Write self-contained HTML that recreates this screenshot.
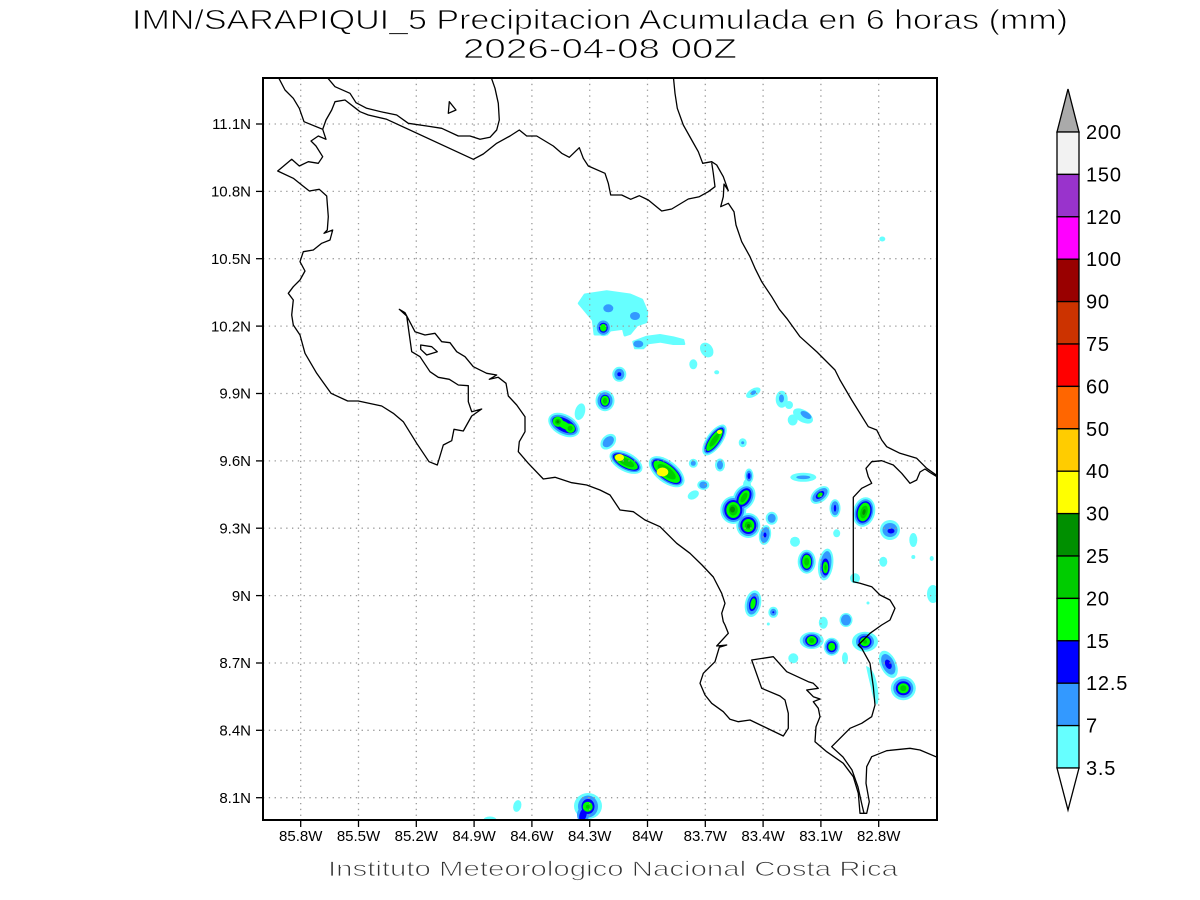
<!DOCTYPE html>
<html>
<head>
<meta charset="utf-8">
<style>
html,body{margin:0;padding:0;background:#fff;}
svg{display:block;}
text{font-family:"Liberation Sans",Arial,sans-serif;}
.c1{fill:#66ffff}.c2{fill:#3399ff}.c3{fill:#0000ff}.c4{fill:#00ff00}.c5{fill:#00cc00}.c6{fill:#008f00}.c7{fill:#ffff00}
.coast{fill:none;stroke:#000;stroke-width:1.3;stroke-linejoin:round}
.grid{stroke:#9a9a9a;stroke-width:1.3;stroke-dasharray:1.3 4.5}
.thin{stroke:#fff;stroke-width:0.8;paint-order:fill;}
</style>
</head>
<body>
<svg width="1200" height="900" viewBox="0 0 1200 900" xmlns="http://www.w3.org/2000/svg">
<defs>
<clipPath id="fr"><rect x="263" y="78" width="674" height="742"/></clipPath>
</defs>
<rect x="0" y="0" width="1200" height="900" fill="#fff"/>

<g clip-path="url(#fr)">
<path class="c1" stroke="#66ffff" stroke-width="3" stroke-linejoin="round" d="M579.3,303.3 L585,295 L606.7,291.7 L630,295 L641.7,300 L646.7,311.7 L646,321.7 L636.7,325 L630,333.3 L625,335 L623.3,328.3 L610,330 L606.7,334 L595,334 L593.3,320 L585,310 Z"/>
<ellipse class="c2" cx="608.3" cy="308.3" rx="5" ry="4"/>
<ellipse class="c2" cx="635" cy="316" rx="5" ry="4"/>
<ellipse class="c1" cx="603.3" cy="327.7" rx="8" ry="8.5"/>
<ellipse class="c2" cx="603.3" cy="327.7" rx="6.5" ry="7.2"/>
<ellipse class="c3" cx="603.3" cy="327.7" rx="4.5" ry="5"/>
<ellipse class="c4" cx="603.3" cy="327.7" rx="3.3" ry="3.8"/>
<path class="c1" stroke="#66ffff" stroke-width="2" stroke-linejoin="round" d="M633.3,341.7 L646.7,336.7 L660,335 L673.3,337.3 L683.3,340 L684.3,344 L673.3,344 L660,341.7 L648.3,343.3 L643.3,348.3 L635,348.3 Z"/>
<ellipse class="c2" cx="638.3" cy="344" rx="5" ry="3.5"/>
<ellipse class="c1" cx="706.7" cy="350" rx="6" ry="8" transform="rotate(-35 706.7 350)"/>
<ellipse class="c1" cx="693.3" cy="364.3" rx="4" ry="5"/>
<ellipse class="c1" cx="716.7" cy="372.3" rx="2.5" ry="2"/>
<ellipse class="c1" cx="882.3" cy="239" rx="3" ry="2.5"/>
<ellipse class="c1" cx="619.3" cy="374.3" rx="7" ry="7.5"/>
<ellipse class="c2" cx="619.3" cy="374.3" rx="5" ry="5.5"/>
<ellipse class="c3" cx="619.3" cy="374.3" rx="2" ry="2"/>
<ellipse class="c1" cx="605" cy="400.7" rx="9.5" ry="10.5"/>
<ellipse class="c2" cx="605" cy="400.7" rx="7.5" ry="8.5"/>
<ellipse class="c3" cx="605" cy="400.7" rx="5" ry="6"/>
<ellipse class="c4" cx="605" cy="400.7" rx="4" ry="5"/>
<ellipse class="c5" cx="605" cy="400.7" rx="2" ry="3"/>
<ellipse class="c1" cx="580" cy="411.7" rx="5" ry="8.5" transform="rotate(15 580 411.7)"/>
<g transform="translate(564 425) rotate(28)">
<ellipse class="c1" rx="17" ry="10.5"/>
<ellipse class="c2" rx="15" ry="8.5"/>
<ellipse class="c3" rx="13" ry="6.5"/>
<ellipse class="c4" cx="-6.9" rx="5.3" ry="5"/>
<ellipse class="c4" cx="6.9" rx="5" ry="4.5"/>
<ellipse class="c4" rx="8" ry="3.5"/>
<ellipse class="c5" cx="-6.9" rx="3" ry="3"/>
<ellipse class="c5" cx="6.9" rx="2.5" ry="2.5"/>
<ellipse class="c6" cx="-7" rx="1.5" ry="1.5"/>
</g>
<ellipse class="c1" cx="608.3" cy="441.7" rx="9" ry="6.5" transform="rotate(-45 608.3 441.7)"/>
<ellipse class="c2" cx="608.3" cy="441.7" rx="6.5" ry="4.5" transform="rotate(-45 608.3 441.7)"/>
<g transform="translate(626 462) rotate(28)">
<ellipse class="c1" rx="18" ry="9.5"/>
<ellipse class="c2" rx="16" ry="7.5"/>
<ellipse class="c3" rx="14.5" ry="6.2"/>
<ellipse class="c4" rx="13" ry="5.3"/>
<ellipse class="c5" rx="9" ry="3.5"/>
</g>
<ellipse class="c7" cx="619.5" cy="457.5" rx="4.5" ry="3.5"/>
<g transform="translate(666.7 471.7) rotate(38)">
<ellipse class="c1" rx="21" ry="11"/>
<ellipse class="c2" rx="19" ry="9"/>
<ellipse class="c3" rx="17.5" ry="7.7"/>
<ellipse class="c4" rx="16" ry="6.7"/>
<ellipse class="c5" rx="11" ry="4.5"/>
</g>
<ellipse class="c7" cx="662.5" cy="472" rx="5.8" ry="4.5"/>
<g transform="translate(714.5 440) rotate(-55)">
<ellipse class="c1" rx="18" ry="8"/>
<ellipse class="c2" rx="16" ry="6.5"/>
<ellipse class="c3" rx="14.5" ry="5.3"/>
<ellipse class="c4" rx="13" ry="4.3"/>
<ellipse class="c5" rx="8" ry="2.5"/>
</g>
<ellipse class="c7" cx="719.5" cy="432" rx="2.5" ry="2"/>
<ellipse class="c1" cx="753.3" cy="392.7" rx="8" ry="4" transform="rotate(-30 753.3 392.7)"/>
<ellipse class="c2" cx="753.3" cy="392.7" rx="3" ry="2" transform="rotate(-30 753.3 392.7)"/>
<ellipse class="c1" cx="781.7" cy="399.3" rx="6" ry="8.5"/>
<ellipse class="c1" cx="789" cy="405" rx="4" ry="4"/>
<ellipse class="c1" cx="803" cy="416" rx="11" ry="6" transform="rotate(30 803 416)"/>
<ellipse class="c1" cx="792.7" cy="420" rx="5" ry="5.5"/>
<ellipse class="c2" cx="781.5" cy="398.5" rx="2.5" ry="4"/>
<ellipse class="c2" cx="806" cy="415" rx="6" ry="3" transform="rotate(30 806 415)"/>
<ellipse class="c1" cx="693.3" cy="463.3" rx="4.5" ry="4.5"/>
<ellipse class="c2" cx="693.3" cy="463.3" rx="2.5" ry="2.5"/>
<ellipse class="c1" cx="720" cy="465" rx="5" ry="6.5"/>
<ellipse class="c2" cx="720" cy="465" rx="3" ry="4.5"/>
<ellipse class="c1" cx="703.3" cy="485" rx="6" ry="5"/>
<ellipse class="c2" cx="703.3" cy="485" rx="4" ry="3.5"/>
<ellipse class="c1" cx="693.3" cy="495" rx="6" ry="4" transform="rotate(-30 693.3 495)"/>
<ellipse class="c1" cx="742.7" cy="442.7" rx="4" ry="4.5"/>
<ellipse class="c2" cx="742.7" cy="442.7" rx="1.5" ry="1.5"/>
<ellipse class="c1" cx="803.3" cy="477.3" rx="13" ry="4.5"/>
<ellipse class="c2" cx="803.3" cy="477.3" rx="7" ry="1.8"/>
<ellipse class="c1" cx="749" cy="476" rx="4.5" ry="7.5"/>
<ellipse class="c1" cx="747" cy="485" rx="4" ry="6"/>
<ellipse class="c1" cx="744" cy="497.5" rx="10.5" ry="14" transform="rotate(30 744 497.5)"/>
<ellipse class="c1" cx="733.3" cy="510" rx="13" ry="14"/>
<ellipse class="c1" cx="748.3" cy="525.5" rx="12" ry="12.5"/>
<ellipse class="c1" cx="771.7" cy="518.3" rx="6" ry="6.5"/>
<ellipse class="c1" cx="765" cy="535" rx="6" ry="10" transform="rotate(10 765 535)"/>
<ellipse class="c2" cx="749" cy="476" rx="3" ry="5.5"/>
<ellipse class="c2" cx="744" cy="497.5" rx="8.5" ry="12" transform="rotate(30 744 497.5)"/>
<ellipse class="c2" cx="733.3" cy="510" rx="11" ry="12"/>
<ellipse class="c2" cx="748.3" cy="525.5" rx="10" ry="10.5"/>
<ellipse class="c2" cx="771.7" cy="518.3" rx="4" ry="4.5"/>
<ellipse class="c2" cx="765" cy="535" rx="4.5" ry="8" transform="rotate(10 765 535)"/>
<ellipse class="c3" cx="749" cy="476" rx="1.5" ry="3"/>
<ellipse class="c3" cx="765" cy="535" rx="1.5" ry="2.5"/>
<ellipse class="c3" cx="744" cy="497.5" rx="6.5" ry="10" transform="rotate(30 744 497.5)"/>
<ellipse class="c3" cx="733.3" cy="510" rx="9" ry="10"/>
<ellipse class="c3" cx="748.3" cy="525.5" rx="8" ry="8.5"/>
<ellipse class="c4" cx="744" cy="497.5" rx="4.5" ry="8" transform="rotate(30 744 497.5)"/>
<ellipse class="c4" cx="733.3" cy="510" rx="7" ry="8"/>
<ellipse class="c4" cx="748.3" cy="525.5" rx="6" ry="6.5"/>
<ellipse class="c5" cx="744" cy="497.5" rx="2.5" ry="5.5" transform="rotate(30 744 497.5)"/>
<ellipse class="c5" cx="733.3" cy="510" rx="4.5" ry="5.5"/>
<ellipse class="c5" cx="748.3" cy="525.5" rx="3.5" ry="4"/>
<ellipse class="c6" cx="732.5" cy="509.5" rx="2.5" ry="3"/>
<ellipse class="c6" cx="748.5" cy="526" rx="1.5" ry="2"/>
<g transform="translate(820 495) rotate(-40)">
<ellipse class="c1" rx="11" ry="7"/>
<ellipse class="c2" rx="9" ry="5"/>
<ellipse class="c3" rx="5" ry="3"/>
<ellipse class="c4" rx="3" ry="2"/>
</g>
<ellipse class="c1" cx="835" cy="508.3" rx="5.5" ry="9"/>
<ellipse class="c2" cx="835" cy="508.3" rx="4" ry="7"/>
<ellipse class="c3" cx="835" cy="508.3" rx="1.2" ry="3.5"/>
<ellipse class="c1" cx="836.7" cy="533.3" rx="3.5" ry="4"/>
<ellipse class="c1" cx="795" cy="541.7" rx="5" ry="5"/>
<g transform="translate(864 512) rotate(15)">
<ellipse class="c1" rx="11" ry="15"/>
<ellipse class="c2" rx="9" ry="13"/>
<ellipse class="c3" rx="7.5" ry="11"/>
<ellipse class="c4" rx="6" ry="9.5"/>
<ellipse class="c5" rx="3.5" ry="6.5"/>
<ellipse class="c6" rx="1.5" ry="3"/>
</g>
<ellipse class="c1" cx="890" cy="530" rx="10" ry="10"/>
<ellipse class="c2" cx="890" cy="530" rx="7.5" ry="7"/>
<ellipse class="c3" cx="891" cy="531" rx="3.5" ry="2.5"/>
<ellipse class="c1" cx="913.3" cy="540" rx="4" ry="7"/>
<ellipse class="c1" cx="913.3" cy="557" rx="2" ry="2"/>
<ellipse class="c1" cx="931.7" cy="558.5" rx="2" ry="2.5"/>
<ellipse class="c1" cx="806.7" cy="561.7" rx="9" ry="12"/>
<ellipse class="c2" cx="806.7" cy="561.7" rx="7" ry="10"/>
<ellipse class="c3" cx="806.7" cy="561.7" rx="5.5" ry="8.3"/>
<ellipse class="c4" cx="806.7" cy="561.7" rx="4.5" ry="7"/>
<ellipse class="c5" cx="806.7" cy="561.7" rx="2.5" ry="4"/>
<ellipse class="c1" cx="825.7" cy="564.5" rx="7.5" ry="16" transform="rotate(8 825.7 564.5)"/>
<ellipse class="c2" cx="825.7" cy="564.5" rx="5.5" ry="13.5" transform="rotate(8 825.7 564.5)"/>
<ellipse class="c3" cx="825.5" cy="567" rx="4" ry="8.5"/>
<ellipse class="c4" cx="825.5" cy="567.5" rx="2.8" ry="5.8"/>
<ellipse class="c5" cx="825.5" cy="567.5" rx="1.2" ry="3"/>
<ellipse class="c1" cx="883.3" cy="561.7" rx="4" ry="5"/>
<ellipse class="c1" cx="855" cy="578.3" rx="5" ry="5"/>
<ellipse class="c1" cx="933" cy="594" rx="6" ry="9"/>
<ellipse class="c1" cx="868" cy="603" rx="1.5" ry="1.5"/>
<g transform="translate(753 603.7) rotate(12)">
<ellipse class="c1" rx="8" ry="13.5"/>
<ellipse class="c2" rx="6" ry="11"/>
<ellipse class="c3" rx="3.8" ry="7.5"/>
<ellipse class="c4" rx="2.5" ry="5.5"/>
</g>
<ellipse class="c1" cx="773.3" cy="612.3" rx="5" ry="5.5"/>
<ellipse class="c2" cx="773.3" cy="612.3" rx="3.2" ry="3.5"/>
<ellipse class="c3" cx="773.3" cy="612.3" rx="1" ry="1"/>
<ellipse class="c1" cx="768.3" cy="624" rx="1.5" ry="1.5"/>
<ellipse class="c1" cx="823.3" cy="622.7" rx="4.5" ry="6"/>
<ellipse class="c1" cx="846" cy="620" rx="6.5" ry="7"/>
<ellipse class="c2" cx="846" cy="620" rx="5" ry="5.5"/>
<ellipse class="c1" cx="811.7" cy="640.5" rx="12" ry="8.5"/>
<ellipse class="c2" cx="811.7" cy="640.5" rx="9" ry="7"/>
<ellipse class="c3" cx="811.7" cy="640.5" rx="6.5" ry="5.5"/>
<ellipse class="c4" cx="811.7" cy="640.5" rx="5" ry="4.5"/>
<ellipse class="c5" cx="811.7" cy="640.5" rx="2.5" ry="2.5"/>
<ellipse class="c1" cx="831.7" cy="646.7" rx="8" ry="9"/>
<ellipse class="c2" cx="831.7" cy="646.7" rx="6.5" ry="7.5"/>
<ellipse class="c3" cx="831.7" cy="646.7" rx="5" ry="5.5"/>
<ellipse class="c4" cx="831.7" cy="646.7" rx="3.5" ry="4"/>
<ellipse class="c1" cx="865" cy="641.7" rx="13" ry="10"/>
<ellipse class="c2" cx="865" cy="641.7" rx="9" ry="8"/>
<ellipse class="c3" cx="865" cy="641.7" rx="6.5" ry="6"/>
<ellipse class="c4" cx="865" cy="641.7" rx="5" ry="4.5"/>
<ellipse class="c5" cx="865" cy="641.7" rx="2" ry="2"/>
<ellipse class="c1" cx="793.3" cy="658.3" rx="5" ry="5"/>
<ellipse class="c1" cx="845" cy="658.3" rx="3" ry="6"/>
<g transform="translate(888.3 664.3) rotate(-25)">
<ellipse class="c1" rx="8" ry="14.5"/>
<ellipse class="c2" rx="6" ry="11"/>
<ellipse class="c3" rx="3" ry="5"/>
</g>
<ellipse class="c1" cx="903.3" cy="688.3" rx="12.5" ry="12"/>
<ellipse class="c2" cx="903.3" cy="688.3" rx="10" ry="9.5"/>
<ellipse class="c3" cx="903.3" cy="688.3" rx="7.5" ry="7"/>
<ellipse class="c4" cx="903.3" cy="688.3" rx="5.5" ry="5"/>
<ellipse class="c5" cx="903.3" cy="688.3" rx="3" ry="3"/>
<path class="c1" d="M866,666 Q874,668 877,684 Q880,700 877,705 Q873,700 871,688 Q868,676 866,666 Z"/>
<ellipse class="c1" cx="588" cy="806" rx="14" ry="13"/>
<ellipse class="c2" cx="588" cy="806.5" rx="10" ry="11"/>
<ellipse class="c2" cx="583" cy="815" rx="6" ry="8"/>
<ellipse class="c3" cx="588" cy="806.5" rx="6.5" ry="7.5"/>
<ellipse class="c3" cx="583" cy="815" rx="3.5" ry="7" transform="rotate(15 583 815)"/>
<ellipse class="c4" cx="587.7" cy="806.7" rx="5" ry="5"/>
<ellipse class="c5" cx="587.7" cy="806.7" rx="2" ry="2"/>
<ellipse class="c1" cx="517.3" cy="806" rx="4" ry="6" transform="rotate(15 517.3 806)"/>
<ellipse class="c1" cx="490" cy="820" rx="6.5" ry="3.5"/>
<ellipse class="c2" cx="489" cy="820.5" rx="3" ry="1.5"/>

<g class="grid">
<line x1="300.7" y1="78" x2="300.7" y2="820"/>
<line x1="358.5" y1="78" x2="358.5" y2="820"/>
<line x1="416.3" y1="78" x2="416.3" y2="820"/>
<line x1="474.1" y1="78" x2="474.1" y2="820"/>
<line x1="531.9" y1="78" x2="531.9" y2="820"/>
<line x1="589.7" y1="78" x2="589.7" y2="820"/>
<line x1="647.5" y1="78" x2="647.5" y2="820"/>
<line x1="705.3" y1="78" x2="705.3" y2="820"/>
<line x1="763.1" y1="78" x2="763.1" y2="820"/>
<line x1="820.9" y1="78" x2="820.9" y2="820"/>
<line x1="878.7" y1="78" x2="878.7" y2="820"/>
<line x1="263" y1="797.7" x2="937" y2="797.7"/>
<line x1="263" y1="730.3" x2="937" y2="730.3"/>
<line x1="263" y1="663.0" x2="937" y2="663.0"/>
<line x1="263" y1="595.6" x2="937" y2="595.6"/>
<line x1="263" y1="528.2" x2="937" y2="528.2"/>
<line x1="263" y1="460.9" x2="937" y2="460.9"/>
<line x1="263" y1="393.5" x2="937" y2="393.5"/>
<line x1="263" y1="326.1" x2="937" y2="326.1"/>
<line x1="263" y1="258.7" x2="937" y2="258.7"/>
<line x1="263" y1="191.4" x2="937" y2="191.4"/>
<line x1="263" y1="124.0" x2="937" y2="124.0"/>
</g>

<polyline class="coast" points="277.7,76 285,90 293.3,98.3 299.3,108.3 304,121.7 322.7,129.3 326,139.3 318.3,136 311,141 316,146 322.7,156.7 318.3,163.3 308.3,161.7 299.3,166 291.7,159.3 277.7,171 293.3,178.3 301.7,185 309.3,191 319.3,189.3 326.7,196 328.3,216.7 327.3,230 324,233.3 332.7,230 330,240 321.7,243.3 313.3,250 303.3,251.7 300,261.7 305,271 300,280 293.3,286.7 288.3,293.3 293.3,300 291.7,315 293.3,325 300,335 305,353.3 316.7,373.3 331,393.3 347.7,401 358.3,401 381.7,406 393.3,413.3 403.3,421.7 416.7,443.3 429,461.7 437.3,465 443.3,445 451.7,440.7 454,429.3 463.3,431 471.7,416 481.7,409 471.7,411.7 468.3,401.7 468.3,385.7 458.3,385 449.3,379.3 438.3,377.3 430,371.7 420,356.7 411.7,351.7 406.7,316 399.3,309.3 405,312.7 415,331.7 425,335 435,333.3 441.7,341.7 450,342.7 456.7,351.7 465,356.7 473.3,366.7 486.7,373.3 496.7,375 489.3,379.3 498.3,377.3 506,383.3 508.3,396 516.7,405 525,416.7 525,431.7 519.3,441.7 518.3,451.7 528.3,463.3 543.3,479 555,477.3 571.7,482.7 586.7,485 600,490 610,495 620,510 633.3,511.7 645,520 660,526.7 676.7,543.3 690,553.3 702,565 713.3,577 721.7,593.3 725,603.3 721.7,613.3 723.3,621.7 725,625 728.3,633.3 716.7,646 726.7,645 719.3,647.3 715,661.7 703.3,673.3 700,683.3 705,695 711.7,703.3 723.3,711.7 730,719.3 738.3,721.7 750,720 783.3,736 788.3,728.3 788.3,713.3 785,700 780,696 761.7,688.3 751.7,660 773.3,656.7 786.7,671.7 808.3,681.7 813.3,683.3 818.3,688.3 806.7,690 813.3,696.7 820,699 813.3,701.7 818.3,708.3 820,716.7 816,726.7 815,741.7 826.7,751.7 843.3,763.3 853.3,776.7 858.3,793.3 860,813.3 866.7,813.3 869.3,801.7 866,783.3 866.7,766.7 871.7,756.7 886.7,750.7 910,748.3 920,750 939,758"/>
<polyline class="coast" points="326,76 335,86.7 350,93.3 356,102.7 366.7,108.3 383.3,112.3 396.7,115 408.3,123.3 426.7,126 441.7,128.3 458.3,136 470,136 480,139.3 490,137.3 496.7,130 499.3,120 498.3,103.3 495,88.3 490.7,76"/>
<polyline class="coast" points="322.7,129.3 326,120 331.7,110 335,101.7 345,100 360,111.7 368.3,115 386.7,119.3 473.3,159.3 483.3,154 496.7,143.3 510,136 519.3,130 526.7,136 536.7,136 553.3,146 561.7,153.3 569.3,157.3 579.3,147.7 583.3,158.3 588.3,166 605,173.3 608.3,183.3 610.7,195 621.7,195 630.7,199.3 639.3,195.7 648.3,200 661.7,211 671.7,209 688.3,199 699.3,196.7 708.3,191.7 715,186.7 713.3,173.3 711.7,162.7"/>
<polyline class="coast" points="673.3,76 675,93.3 677.3,108.3 683.3,125 691.7,140 698.3,151.7 702.7,163.3 711.7,161.7 716.7,165 723.3,176.7 728.3,190.7 724,184 723.3,196.7 720.7,206.7 728.3,203.3 734,211.7 736,225 741.7,241.7 750,256.7 755,268.3 761.7,281.7 771.7,296.7 779.3,309.3 786.7,318.3 800,336.7 817,352 835,370 840,380 851.7,400 868.3,426.7 876.7,430 881.7,440 886.7,446.7 900,453.3 916.7,458.3 926.7,468.3 939,477"/>
<polyline class="coast" points="939,478 930,472.5 925,469 920,472 916.7,480 910,483.3 901.7,473.3 893.3,465 881.7,460.7 871.7,461.7 866,468.3 868.3,476.7 871.7,483.3 861.7,488.3 853.3,497.3 853.3,581.7 860,583.3 871.7,586.7 880,595 890,600 895,608.3 890,620 881.7,625 870,633.3 865,638.3 858.3,645 861.7,648.3 870,663.3 873.3,686.7 875,705 871.7,716.7 861.7,723.3 850,728.3 831.7,746.7 843,757 852,770 858,787 862,805 864,813.3"/>
<polygon class="coast" points="420.7,345 431.7,346.7 437.3,351.7 426.7,355 420.7,349.3"/>
<polygon class="coast" points="449.3,101.7 456,110 448.3,113.3"/>
</g>

<rect x="263" y="78" width="674" height="742" fill="none" stroke="#000" stroke-width="2"/>

<g stroke="#000" stroke-width="1.3">
<line x1="256" y1="797.7" x2="263" y2="797.7"/>
<line x1="256" y1="730.3" x2="263" y2="730.3"/>
<line x1="256" y1="663.0" x2="263" y2="663.0"/>
<line x1="256" y1="595.6" x2="263" y2="595.6"/>
<line x1="256" y1="528.2" x2="263" y2="528.2"/>
<line x1="256" y1="460.9" x2="263" y2="460.9"/>
<line x1="256" y1="393.5" x2="263" y2="393.5"/>
<line x1="256" y1="326.1" x2="263" y2="326.1"/>
<line x1="256" y1="258.7" x2="263" y2="258.7"/>
<line x1="256" y1="191.4" x2="263" y2="191.4"/>
<line x1="256" y1="124.0" x2="263" y2="124.0"/>
<line x1="300.7" y1="820" x2="300.7" y2="827"/>
<line x1="358.5" y1="820" x2="358.5" y2="827"/>
<line x1="416.3" y1="820" x2="416.3" y2="827"/>
<line x1="474.1" y1="820" x2="474.1" y2="827"/>
<line x1="531.9" y1="820" x2="531.9" y2="827"/>
<line x1="589.7" y1="820" x2="589.7" y2="827"/>
<line x1="647.5" y1="820" x2="647.5" y2="827"/>
<line x1="705.3" y1="820" x2="705.3" y2="827"/>
<line x1="763.1" y1="820" x2="763.1" y2="827"/>
<line x1="820.9" y1="820" x2="820.9" y2="827"/>
<line x1="878.7" y1="820" x2="878.7" y2="827"/>
</g>

<g font-size="15" text-anchor="end" fill="#000">
<text x="251" y="803">8.1N</text>
<text x="251" y="735.5">8.4N</text>
<text x="251" y="668.2">8.7N</text>
<text x="251" y="600.8">9N</text>
<text x="251" y="533.4">9.3N</text>
<text x="251" y="466.1">9.6N</text>
<text x="251" y="398.7">9.9N</text>
<text x="251" y="331.3">10.2N</text>
<text x="251" y="263.9">10.5N</text>
<text x="251" y="196.6">10.8N</text>
<text x="251" y="129.2">11.1N</text>
</g>
<g font-size="15" text-anchor="middle" fill="#000">
<text x="300.7" y="841">85.8W</text>
<text x="358.5" y="841">85.5W</text>
<text x="416.3" y="841">85.2W</text>
<text x="474.1" y="841">84.9W</text>
<text x="531.9" y="841">84.6W</text>
<text x="589.7" y="841">84.3W</text>
<text x="647.5" y="841">84W</text>
<text x="705.3" y="841">83.7W</text>
<text x="763.1" y="841">83.4W</text>
<text x="820.9" y="841">83.1W</text>
<text x="878.7" y="841">82.8W</text>
</g>

<text class="thin" x="132" y="29" font-size="28" textLength="936" lengthAdjust="spacingAndGlyphs" fill="#000">IMN/SARAPIQUI_5 Precipitacion Acumulada en 6 horas (mm)</text>
<text class="thin" x="463" y="58" font-size="28" textLength="274" lengthAdjust="spacingAndGlyphs" fill="#000">2026-04-08 00Z</text>
<text class="thin" x="328" y="876" font-size="21" textLength="570" lengthAdjust="spacingAndGlyphs" fill="#333">Instituto Meteorologico Nacional Costa Rica</text>

<g stroke="#000" stroke-width="1.3">
<polygon points="1057,132 1079,132 1068,89" fill="#aaaaaa"/>
<rect x="1057" y="132" width="22" height="42.4" fill="#f2f2f2"/>
<rect x="1057" y="174.4" width="22" height="42.4" fill="#9933cc"/>
<rect x="1057" y="216.8" width="22" height="42.4" fill="#ff00ff"/>
<rect x="1057" y="259.2" width="22" height="42.4" fill="#990000"/>
<rect x="1057" y="301.6" width="22" height="42.4" fill="#cc3300"/>
<rect x="1057" y="344" width="22" height="42.4" fill="#ff0000"/>
<rect x="1057" y="386.4" width="22" height="42.4" fill="#ff6600"/>
<rect x="1057" y="428.8" width="22" height="42.4" fill="#ffcc00"/>
<rect x="1057" y="471.2" width="22" height="42.4" fill="#ffff00"/>
<rect x="1057" y="513.6" width="22" height="42.4" fill="#008f00"/>
<rect x="1057" y="556" width="22" height="42.4" fill="#00cc00"/>
<rect x="1057" y="598.4" width="22" height="42.4" fill="#00ff00"/>
<rect x="1057" y="640.8" width="22" height="42.4" fill="#0000ff"/>
<rect x="1057" y="683.2" width="22" height="42.4" fill="#3399ff"/>
<rect x="1057" y="725.6" width="22" height="42.4" fill="#66ffff"/>
<polygon points="1057,768 1079,768 1068,810" fill="#ffffff"/>
</g>
<g font-size="20" fill="#000" letter-spacing="0.8">
<text x="1086" y="139">200</text>
<text x="1086" y="181.4">150</text>
<text x="1086" y="223.8">120</text>
<text x="1086" y="266.2">100</text>
<text x="1086" y="308.6">90</text>
<text x="1086" y="351">75</text>
<text x="1086" y="393.4">60</text>
<text x="1086" y="435.8">50</text>
<text x="1086" y="478.2">40</text>
<text x="1086" y="520.6">30</text>
<text x="1086" y="563">25</text>
<text x="1086" y="605.4">20</text>
<text x="1086" y="647.8">15</text>
<text x="1086" y="690.2">12.5</text>
<text x="1086" y="732.6">7</text>
<text x="1086" y="775">3.5</text>
</g>
</svg>
</body>
</html>
